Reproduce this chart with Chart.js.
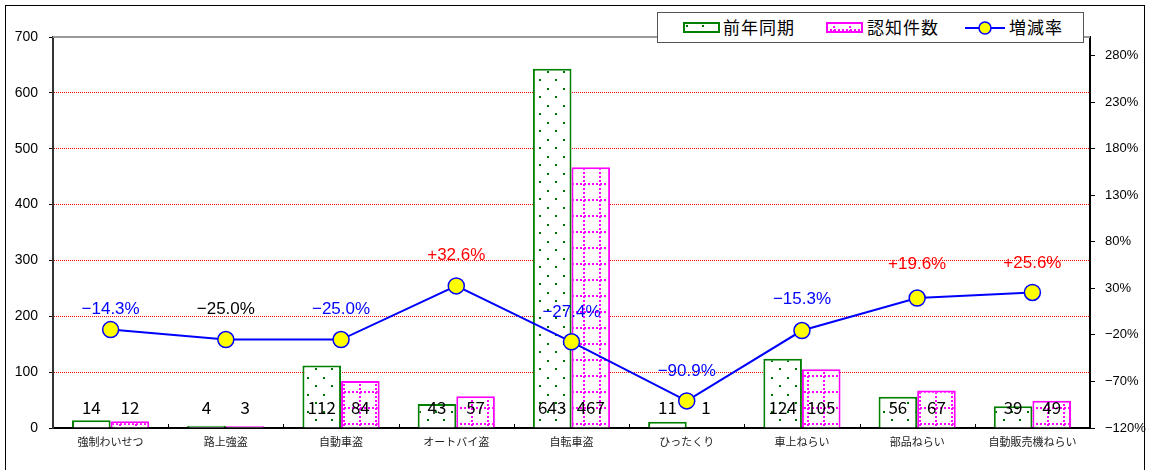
<!DOCTYPE html>
<html>
<head>
<meta charset="utf-8">
<script src="https://cdn.jsdelivr.net/npm/chart.js@4/dist/chart.umd.min.js"></script>
<style>
  body { margin: 0; background: #fff; }
  .wrap { position: relative; width: 1149px; height: 470px; overflow: hidden; }
  .frame { position: absolute; left: 5px; top: 5px; width: 1138px; height: 480px; border: 1.5px solid #000; }
  canvas#chart { position: absolute; left: 0; top: 0; }
  .legend { position: absolute; left: 657px; top: 12px; width: 425px; height: 29px; border: 1px solid #555; background: #fff;
    font-family: "Noto Sans CJK JP", sans-serif; font-size: 17px; color: #000; }
  .legend canvas, .legend span { position: absolute; }
  .legend span { top: 2px; line-height: 24px; letter-spacing: 1px; }
</style>
</head>
<body>
<div class="wrap">
  <div class="frame"></div>
  <canvas id="chart" width="1149" height="470"></canvas>
  <div class="legend">
    <canvas id="sw1" width="37" height="11" style="left:25px;top:9px"></canvas>
    <span style="left:65px">前年同期</span>
    <canvas id="sw2" width="37" height="11" style="left:168px;top:9px"></canvas>
    <span style="left:209px">認知件数</span>
    <canvas id="sw3" width="40" height="16" style="left:307px;top:7px"></canvas>
    <span style="left:351px">増減率</span>
  </div>
</div>
<script>
// data
const categories = ["強制わいせつ", "路上強盗", "自動車盗", "オートバイ盗", "自転車盗", "ひったくり", "車上ねらい", "部品ねらい", "自動販売機ねらい"];
const prevYear = [14, 4, 112, 43, 643, 11, 124, 56, 39];
const recognized = [12, 3, 84, 57, 467, 1, 105, 67, 49];
const rate = [-14.3, -25.0, -25.0, 32.6, -27.4, -90.9, -15.3, 19.6, 25.6];
const rateTicks = [-120, -70, -20, 30, 80, 130, 180, 230, 280];

const GREEN = "#008000";
const MAGENTA = "#FF00FF";
const BLUE = "#0000FF";
// label styling (colour and lift above the point, in px)
const rateLabelColors = [BLUE, "#000", BLUE, "#FF0000", BLUE, BLUE, BLUE, "#FF0000", "#FF0000"];
const rateLabelLift = [20, 30, 30, 31, 29, 30, 31, 34, 29];

// fill patterns
function dotPattern(ctx) {
  let c = document.createElement("canvas");
  c.width = 16; c.height = 17;
  let g = c.getContext("2d");
  g.fillStyle = "#fff"; g.fillRect(0, 0, 16, 17);
  g.fillStyle = "#007000";
  g.fillRect(3, 3, 2, 2);
  g.fillRect(11, 11, 2, 2);
  return ctx.createPattern(c, "repeat");
}

function gridPattern(ctx) {
  let c = document.createElement("canvas");
  c.width = 16; c.height = 16;
  let g = c.getContext("2d");
  g.fillStyle = "#fff"; g.fillRect(0, 0, 16, 16);
  g.fillStyle = MAGENTA;
  for (let i = 0; i < 16; i += 4) {
    g.fillRect(7, i, 2, 2);
    g.fillRect(i, 7, 2, 2);
  }
  return ctx.createPattern(c, "repeat");
}

function fmtRate(v) {
  return (v > 0 ? "+" : "\u2212") + Math.abs(v).toFixed(1) + "%";
}

// legend swatches
function swatch(id, pat, border) {
  let g = document.getElementById(id).getContext("2d");
  g.fillStyle = pat(g); g.fillRect(1, 1, 35, 9);
  g.strokeStyle = border; g.lineWidth = 2; g.strokeRect(1, 1, 35, 9);
}
swatch("sw1", dotPattern, GREEN);
swatch("sw2", gridPattern, MAGENTA);
let s3 = document.getElementById("sw3").getContext("2d");
s3.strokeStyle = BLUE; s3.lineWidth = 2;
s3.beginPath(); s3.moveTo(0, 8); s3.lineTo(40, 8); s3.stroke();
s3.fillStyle = "#FFFF00"; s3.lineWidth = 1.5;
s3.beginPath(); s3.arc(20, 8, 6, 0, Math.PI * 2); s3.fill(); s3.stroke();

// value labels, top border line and category tick marks
const labelPlugin = {
  id: "labels",
  afterDatasetsDraw(chart) {
    const ctx = chart.ctx;
    const area = chart.chartArea;
    const y0 = chart.scales.y.getPixelForValue(0);
    ctx.save();
    ctx.strokeStyle = "#999"; ctx.lineWidth = 2;
    ctx.beginPath(); ctx.moveTo(area.left, area.top); ctx.lineTo(area.right, area.top); ctx.stroke();

    ctx.strokeStyle = "#000"; ctx.lineWidth = 1;
    const step = (area.right - area.left) / categories.length;
    for (let i = 1; i < categories.length; i++) {
      let x = Math.round(area.left + step * i) + 0.5;
      ctx.beginPath(); ctx.moveTo(x, area.bottom); ctx.lineTo(x, area.bottom - 4); ctx.stroke();
    }

    ctx.textAlign = "center";
    ctx.textBaseline = "middle";
    ctx.font = "17px 'Noto Sans CJK JP', sans-serif";
    ctx.fillStyle = "#000";
    [1, 2].forEach((di) => {
      chart.getDatasetMeta(di).data.forEach((bar, i) => {
        ctx.fillText(chart.data.datasets[di].data[i], bar.x, y0 - 20);
      });
    });

    ctx.font = "17px 'Liberation Sans', Arial, sans-serif";
    chart.getDatasetMeta(0).data.forEach((pt, i) => {
      ctx.fillStyle = rateLabelColors[i];
      ctx.fillText(fmtRate(rate[i]), pt.x, pt.y - rateLabelLift[i]);
    });
    ctx.restore();
  }
};

const cctx = document.getElementById("chart").getContext("2d");

new Chart(cctx, {
  type: "bar",
  data: {
    labels: categories,
    datasets: [
      {
        type: "line",
        label: "増減率",
        data: rate,
        yAxisID: "y1",
        borderColor: BLUE,
        borderWidth: 2,
        pointRadius: 8,
        pointBackgroundColor: "#FFFF00",
        pointBorderColor: BLUE,
        pointBorderWidth: 1.5,
        tension: 0,
        order: 0
      },
      {
        label: "前年同期",
        data: prevYear,
        yAxisID: "y",
        backgroundColor: dotPattern(cctx),
        borderColor: GREEN,
        borderWidth: 2,
        categoryPercentage: 0.67,
        barPercentage: 1.0,
        order: 1
      },
      {
        label: "認知件数",
        data: recognized,
        yAxisID: "y",
        backgroundColor: gridPattern(cctx),
        borderColor: MAGENTA,
        borderWidth: 2,
        categoryPercentage: 0.67,
        barPercentage: 1.0,
        order: 1
      }
    ]
  },
  options: {
    responsive: false,
    animation: false,
    devicePixelRatio: 1,
    layout: { padding: { top: 37, left: 0, right: 0, bottom: 0 } },
    plugins: {
      legend: { display: false },
      tooltip: { enabled: false }
    },
    scales: {
      x: {
        grid: { display: false, drawTicks: false },
        border: { color: "#000", width: 2 },
        ticks: {
          color: "#222",
          font: { family: "'Noto Sans CJK JP', sans-serif", size: 11 },
          padding: 7,
          maxRotation: 0,
          autoSkip: false
        },
        afterFit(scale) { scale.height = 42; }
      },
      y: {
        position: "left",
        min: 0,
        max: 700,
        ticks: {
          stepSize: 100,
          color: "#000",
          padding: 11,
          font: { family: "'Liberation Sans', Arial, sans-serif", size: 14 }
        },
        grid: {
          color: (c) => (c.tick.value === 0 || c.tick.value === 700 ? "rgba(0,0,0,0)" : "#FF0000"),
          lineWidth: 1,
          tickColor: "#000",
          tickLength: 4
        },
        border: { color: "#333", width: 2, dash: [1, 1] },
        afterFit(scale) { scale.width = 53; }
      },
      y1: {
        position: "right",
        min: -120,
        max: 300,
        afterBuildTicks(axis) {
          axis.ticks = rateTicks.map((v) => ({ value: v }));
        },
        ticks: {
          color: "#000",
          padding: 10,
          font: { family: "'Liberation Sans', Arial, sans-serif", size: 13 },
          callback: (v) => (v < 0 ? "\u2212" + Math.abs(v) : v) + "%"
        },
        grid: { drawOnChartArea: false, tickColor: "#000", tickLength: 5 },
        border: { color: "#000", width: 2 },
        afterFit(scale) { scale.width = 59; }
      }
    }
  },
  plugins: [labelPlugin]
});
</script>
</body>
</html>
